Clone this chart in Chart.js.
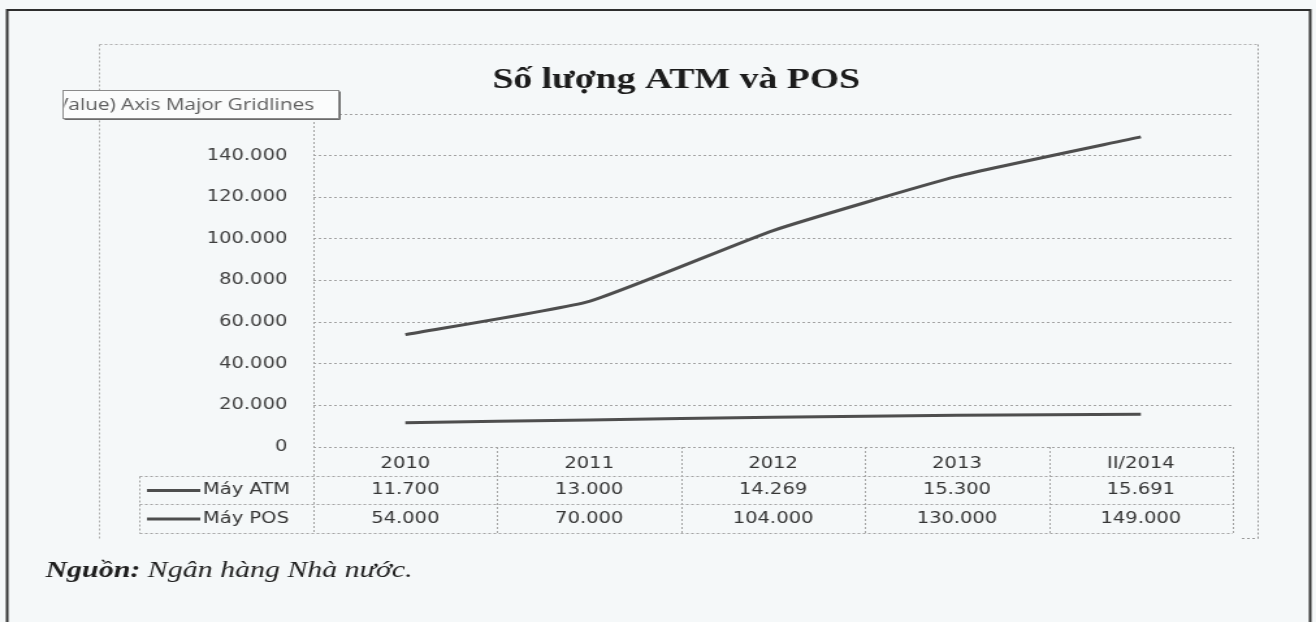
<!DOCTYPE html>
<html>
<head>
<meta charset="utf-8">
<title>Số lượng ATM và POS</title>
<script src="https://cdn.jsdelivr.net/npm/chart.js@4.4.1/dist/chart.umd.min.js"></script>
<style>
  html, body { margin: 0; padding: 0; background: #f5f8f9; overflow: hidden; }
  /* the scan is stretched sideways: draw on a narrow canvas and widen it */
  #wrap { width: 1012px; height: 622px; transform: scaleX(1.3004); transform-origin: 0 0; }
  #chart { display: block; }
</style>
</head>
<body>
<div id="wrap"><canvas id="chart" width="1012" height="622"></canvas></div>
<script>
const categories = ["2010", "2011", "2012", "2013", "II/2014"];
const atmValues = [11700, 13000, 14269, 15300, 15691];
const posValues = [54000, 70000, 104000, 130000, 149000];
const seriesNames = ["Máy ATM", "Máy POS"];
const chartTitle = "Số lượng ATM và POS";
const sourceLabel = "Nguồn:";
const sourceText = " Ngân hàng Nhà nước.";
const tipText = "(Value) Axis Major Gridlines";

const lineColor = "#4e4e4e";
const dotColor = "#a3a3a3";
const textColor = "#363636";

function fmt(v) {
  return String(v).replace(/\B(?=(\d{3})+(?!\d))/g, ".");
}

function dotLine(ctx, x1, y1, x2, y2, color) {
  ctx.save();
  ctx.strokeStyle = color || dotColor;
  ctx.lineWidth = 1;
  ctx.setLineDash([2, 2]);
  ctx.beginPath();
  ctx.moveTo(x1, y1);
  ctx.lineTo(x2, y2);
  ctx.stroke();
  ctx.restore();
}

const pagePlugin = {
  id: "page",
  beforeDraw(chart) {
    const ctx = chart.ctx;
    ctx.save();
    ctx.fillStyle = "#f5f8f9";
    ctx.fillRect(0, 0, chart.width, chart.height);

    // outer page box
    ctx.strokeStyle = "#2e2e2e";
    ctx.lineWidth = 2;
    ctx.beginPath();
    ctx.moveTo(5.5, 640);
    ctx.lineTo(5.5, 10);
    ctx.lineTo(1007.5, 10);
    ctx.lineTo(1007.5, 640);
    ctx.stroke();
    ctx.restore();

    // chart frame
    dotLine(ctx, 76.5, 44.5, 967.5, 44.5, "#b0b0b0");
    dotLine(ctx, 76.5, 44.5, 76.5, 540, "#b0b0b0");
    dotLine(ctx, 967.5, 44.5, 967.5, 538.5, "#9a9a9a");
    dotLine(ctx, 955, 538.5, 967.5, 538.5, "#9a9a9a");

    // title
    ctx.save();
    ctx.fillStyle = "#1c1c1c";
    ctx.font = "bold 29px 'Liberation Serif'";
    ctx.textAlign = "center";
    ctx.textBaseline = "alphabetic";
    ctx.fillText(chartTitle, 520, 88);
    ctx.restore();
  },
  afterDraw(chart) {
    const { ctx, scales: { x, y } } = chart;
    const area = chart.chartArea;
    const top = area.bottom;
    const row1 = 476.5, row2 = 504.5, bottom = 533.5;
    const boxLeft = 107.5;

    // y axis line runs down through the data table
    dotLine(ctx, area.left + 0.5, area.top, area.left + 0.5, bottom);

    // data table grid
    [row1, row2, bottom].forEach((ry) => dotLine(ctx, boxLeft, ry, area.right, ry));
    dotLine(ctx, boxLeft, row1, boxLeft, bottom);
    const step = x.getPixelForValue(1) - x.getPixelForValue(0);
    categories.forEach((c, i) => {
      const edge = Math.round(x.getPixelForValue(i) + step / 2) + 0.5;
      dotLine(ctx, edge, top, edge, bottom);
    });

    ctx.save();
    ctx.font = "15px 'DejaVu Sans'";
    ctx.textBaseline = "middle";
    const rows = [
      { name: seriesNames[0], values: atmValues, cy: (row1 + row2) / 2 },
      { name: seriesNames[1], values: posValues, cy: (row2 + bottom) / 2 },
    ];
    rows.forEach((r) => {
      ctx.strokeStyle = lineColor;
      ctx.lineWidth = 3;
      ctx.beginPath();
      ctx.moveTo(113, r.cy);
      ctx.lineTo(154, r.cy);
      ctx.stroke();
      ctx.fillStyle = textColor;
      ctx.textAlign = "left";
      ctx.fillText(r.name, 156, r.cy);
      ctx.textAlign = "center";
      r.values.forEach((v, i) => {
        ctx.fillText(fmt(v), x.getPixelForValue(i), r.cy);
      });
    });
    ctx.restore();

    // Excel tooltip caught in the scan, cut off on the left
    ctx.save();
    const tx = 48.5, ty = 90.5, tw = 212, th = 28;
    ctx.fillStyle = "#fbfcfc";
    ctx.fillRect(tx, ty, tw, th);
    ctx.strokeStyle = "#8a8a8a";
    ctx.lineWidth = 1;
    ctx.strokeRect(tx, ty, tw, th);
    ctx.strokeStyle = "#6a6a6a";
    ctx.beginPath();
    ctx.moveTo(tx + 1, ty + th + 1);
    ctx.lineTo(tx + tw + 1, ty + th + 1);
    ctx.lineTo(tx + tw + 1, ty + 1);
    ctx.stroke();
    ctx.beginPath();
    ctx.rect(tx + 1, ty, tw - 1, th);
    ctx.clip();
    ctx.font = "16px 'Open Sans'";
    ctx.fillStyle = "#5e5e5e";
    ctx.textBaseline = "middle";
    const lead = ctx.measureText("(V").width;
    ctx.fillText(tipText, tx + 4 - lead, ty + th / 2 + 1);
    ctx.restore();

    // source note
    ctx.save();
    ctx.fillStyle = "#1e1e1e";
    ctx.textBaseline = "alphabetic";
    ctx.font = "bold italic 23px 'Liberation Serif'";
    ctx.fillText(sourceLabel, 35, 577);
    const w = ctx.measureText(sourceLabel).width;
    ctx.font = "italic 23px 'Liberation Serif'";
    ctx.fillText(sourceText, 35 + w, 577);
    ctx.restore();
  },
};

Chart.defaults.font.family = "'DejaVu Sans'";
Chart.defaults.font.size = 15;
Chart.defaults.color = textColor;

new Chart(document.getElementById("chart"), {
  type: "line",
  data: {
    labels: categories,
    datasets: [
      {
        label: seriesNames[0],
        data: atmValues,
        borderColor: lineColor,
        borderWidth: 3,
        pointRadius: 0,
        tension: 0.15,
      },
      {
        label: seriesNames[1],
        data: posValues,
        borderColor: lineColor,
        borderWidth: 3,
        pointRadius: 0,
        tension: 0.15,
      },
    ],
  },
  options: {
    responsive: false,
    animation: false,
    devicePixelRatio: 1,
    layout: { padding: { left: 0, right: 64, top: 114, bottom: 89 } },
    plugins: {
      legend: { display: false },
      tooltip: { enabled: false },
      title: { display: false },
    },
    scales: {
      x: {
        offset: true,
        grid: { display: false, drawTicks: false },
        border: { display: false },
        ticks: { padding: 8, color: "#333" },
        afterFit: (s) => { s.height = 86; },
      },
      y: {
        min: 0,
        max: 160000,
        grid: { color: dotColor, lineWidth: 1, drawTicks: false },
        border: { display: false, dash: [2, 2] },
        ticks: {
          stepSize: 20000,
          padding: 20,
          color: "#404040",
          // the 160.000 label sits under the tooltip in the scan
          callback: (v) => (v >= 160000 ? "" : fmt(v)),
        },
        afterFit: (s) => { s.width = 241; },
      },
    },
  },
  plugins: [pagePlugin],
});
</script>
</body>
</html>
